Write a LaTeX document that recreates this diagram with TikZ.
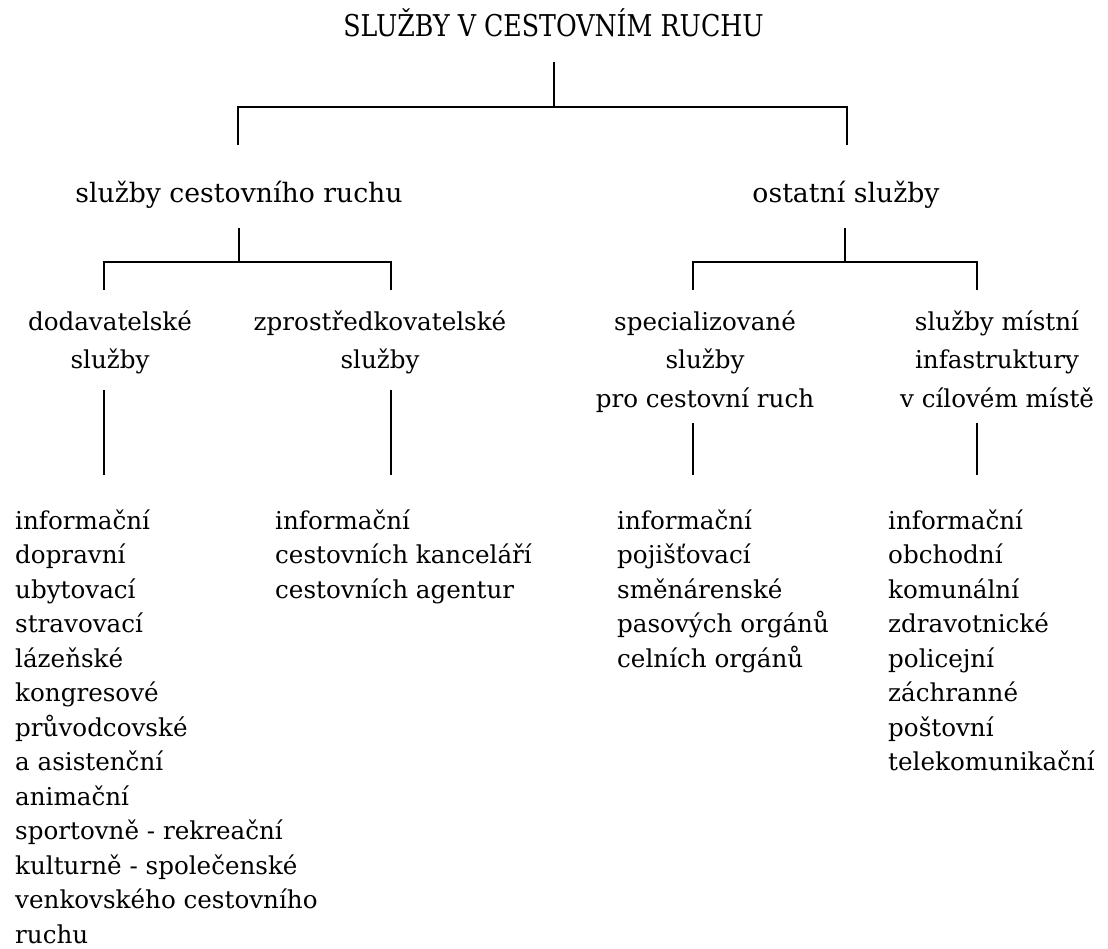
\documentclass[tikz,border=0pt]{standalone}
\usepackage{graphicx}
\usepackage{fontspec}
\setmainfont{DejaVu Serif}
\tikzset{
  conn/.style={line width=1.6pt, line cap=butt, line join=miter},
  titletext/.style={inner sep=0pt, anchor=base, font=\fontsize{30}{36}\selectfont},
  secondtext/.style={inner sep=0pt, anchor=base, font=\fontsize{26.7}{32}\selectfont},
  thirdtext/.style={inner sep=0pt, anchor=base, align=center, font=\fontsize{24.6}{38.5}\selectfont},
  itemlist/.style={inner sep=0pt, anchor=base west, align=left, font=\fontsize{24.6}{34.5}\selectfont},
}
\begin{document}
\begin{tikzpicture}[x=1pt,y=-1pt]
\useasboundingbox (0,0) rectangle (1108,949);

% texts (multi-line nodes are anchored at the baseline of their last line)
\node[titletext] (title) at (553.5,37) {\scalebox{0.843}[1]{SLUŽBY V CESTOVNÍM RUCHU}};
\node[secondtext] (scr) at (239,203) {služby cestovního ruchu};
\node[secondtext] (os) at (846,203) {ostatní služby};

\node[thirdtext] (dod) at (110,368.5) {dodavatelské\\služby};
\node[thirdtext] (zpr) at (380,368.5) {zprostředkovatelské\\služby};
\node[thirdtext] (spec) at (705,407) {specializované\\služby\\pro cestovní ruch};
\node[thirdtext] (mist) at (997,407) {služby místní\\infastruktury\\v cílovém místě};

\node[itemlist] (c1) at (15,943) {informační\\dopravní\\ubytovací\\stravovací\\lázeňské\\kongresové\\průvodcovské\\a asistenční\\animační\\sportovně - rekreační\\kulturně - společenské\\venkovského cestovního\\ruchu};
\node[itemlist] (c2) at (275,598) {informační\\cestovních kanceláří\\cestovních agentur};
\node[itemlist] (c3) at (617,667) {informační\\pojišťovací\\směnárenské\\pasových orgánů\\celních orgánů};
\node[itemlist] (c4) at (888,770.5) {informační\\obchodní\\komunální\\zdravotnické\\policejní\\záchranné\\poštovní\\telekomunikační};

% junction coordinates
\coordinate (t1) at (554,62);
\coordinate (t2) at (554,107);
\coordinate (tlb) at (238,107);
\coordinate (tl) at (238,145);
\coordinate (trb) at (847,107);
\coordinate (tr) at (847,145);

\coordinate (a1) at (239,228);
\coordinate (a2) at (239,262);
\coordinate (alb) at (104,262);
\coordinate (al) at (104,290);
\coordinate (arb) at (391,262);
\coordinate (ar) at (391,290);

\coordinate (b1) at (845,228);
\coordinate (b2) at (845,262);
\coordinate (blb) at (693,262);
\coordinate (bl) at (693,290);
\coordinate (brb) at (977,262);
\coordinate (br) at (977,290);

\coordinate (d1) at (104,390);
\coordinate (d2) at (104,475);
\coordinate (z1) at (391,390);
\coordinate (z2) at (391,475);
\coordinate (s1) at (693,423);
\coordinate (s2) at (693,475);
\coordinate (m1) at (977,423);
\coordinate (m2) at (977,475);

% connectors
\draw[conn] (t1) -- (t2);
\draw[conn] (tl) -- (tlb) -- (trb) -- (tr);
\draw[conn] (a1) -- (a2);
\draw[conn] (al) -- (alb) -- (arb) -- (ar);
\draw[conn] (b1) -- (b2);
\draw[conn] (bl) -- (blb) -- (brb) -- (br);
\draw[conn] (d1) -- (d2);
\draw[conn] (z1) -- (z2);
\draw[conn] (s1) -- (s2);
\draw[conn] (m1) -- (m2);
\end{tikzpicture}
\end{document}
